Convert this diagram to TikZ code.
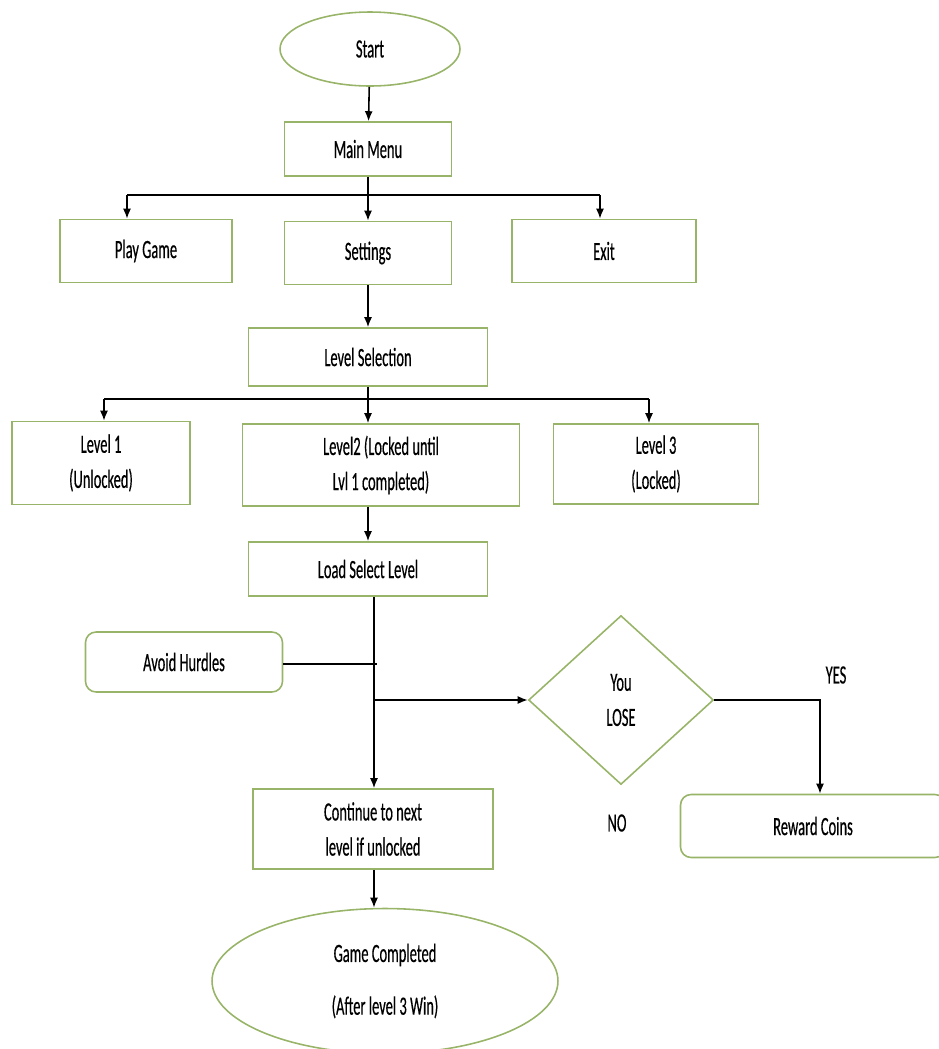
\documentclass[tikz,border=0pt]{standalone}
\usepackage{fontspec}
\setmainfont[FakeStretch=0.55,FakeBold=0.4]{Carlito}
\usetikzlibrary{arrows.meta}
\usetikzlibrary{shapes.geometric}
\usetikzlibrary{positioning}
\definecolor{boxgreen}{RGB}{152,180,104}

\begin{document}
\begin{tikzpicture}[
	x=0.02cm, y=-0.02cm,
	> = {Latex[length=2mm,width=1.6mm]},
	every node/.style = {font=\fontsize{15}{20}\selectfont, text=black},
	box/.style = {draw=boxgreen, line width=0.9pt, align=center, inner sep=2pt},
	roundbox/.style = {box, rounded corners=6pt},
	oval/.style = {box, ellipse},
	decision/.style = {box, diamond, inner sep=0pt},
	link/.style = {draw=black, line width=0.9pt}
  ]
	\useasboundingbox (0,0) rectangle (939,1049);

	\node[oval, minimum width=3.6cm, minimum height=1.48cm] (start) at (370,49) {Start};
	\node[box, minimum width=3.34cm, minimum height=1.08cm] (menu) at (368,149) {Main Menu};

	\node[box, minimum width=3.44cm, minimum height=1.26cm] (play) at (146,251) {Play Game};
	\node[box, minimum width=3.34cm, minimum height=1.26cm] (settings) at (368,253) {Settings};
	\node[box, minimum width=3.68cm, minimum height=1.26cm] (exit) at (604,251) {Exit};

	\node[box, minimum width=4.78cm, minimum height=1.16cm] (levelsel) at (368,357) {Level Selection};

	\node[box, minimum width=3.56cm, minimum height=1.66cm] (lvl1) at (101,463) {Level 1\\(Unlocked)};
	\node[box, minimum width=5.54cm, minimum height=1.64cm] (lvl2) at (381,465) {Level2 (Locked until\\Lvl 1 completed)};
	\node[box, minimum width=4.1cm, minimum height=1.6cm] (lvl3) at (656,464) {Level 3\\(Locked)};

	\node[box, minimum width=4.78cm, minimum height=1.08cm] (load) at (368,569) {Load Select Level};

	\node[roundbox, minimum width=3.94cm, minimum height=1.2cm] (hurdles) at (184,662) {Avoid Hurdles};
	\node[decision, minimum width=3.7cm, minimum height=3.38cm] (lose) at (621,700) {You\\LOSE};
	\node[roundbox, minimum width=5.3cm, minimum height=1.26cm] (reward) at (813,826) {Reward Coins};

	\node[box, minimum width=4.8cm, minimum height=1.6cm] (cont) at (373,829) {Continue to next\\level if unlocked};
	\node[oval, minimum width=6.92cm, minimum height=2.9cm, font=\fontsize{15}{30}\selectfont] (gamecomp) at (385,981) {Game Completed\\(After level 3 Win)};

	\node (yes) at (836,675) {YES};
	\node (no) at (617,823) {NO};

	% menu branches
	\coordinate (j1l) at (127,195);
	\coordinate (j1r) at (600,195);
	\coordinate (j2l) at (104,399);
	\coordinate (j2r) at (649,399);
	\coordinate (hj) at (377,664);
	\coordinate (lj) at (374,700);
	\coordinate (yj) at (820,700);

	\draw[link,->] (start) -- (menu);
	\draw[link,->] (menu.south) -- (settings.north);
	\draw[link] (j1l) -- (j1r);
	\draw[link,->] (j1l) -- (j1l |- play.north);
	\draw[link,->] (j1r) -- (j1r |- exit.north);

	\draw[link,->] (settings) -- (levelsel);
	\draw[link,->] (levelsel.south) -- (lvl2.north -| levelsel.south);
	\draw[link] (j2l) -- (j2r);
	\draw[link,->] (j2l) -- (j2l |- lvl1.north);
	\draw[link,->] (j2r) -- (j2r |- lvl3.north);

	\draw[link,->] (lvl2.south -| load.north) -- (load.north);
	\draw[link,->] (load.south -| lj) -- (cont.north -| lj);
	\draw[link] (hurdles.east |- hj) -- (hj);
	\draw[link,->] (lj) -- (lose.west);
	\draw[link,->] (lose.east) -- (yj) -- (reward.north -| yj);
	\draw[link,->] (cont.south -| lj) -- (gamecomp.north -| lj);

\end{tikzpicture}
\end{document}
